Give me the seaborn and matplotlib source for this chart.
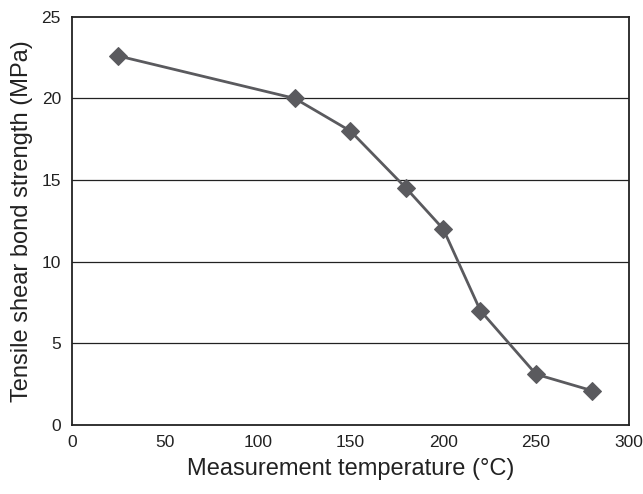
import matplotlib
matplotlib.use("Agg")
import matplotlib.pyplot as plt
import seaborn as sns
import pandas as pd

temperature = [25, 120, 150, 180, 200, 220, 250, 280]
strength = [22.6, 20.0, 18.0, 14.5, 12.0, 7.0, 3.1, 2.1]
x_ticks = [0, 50, 100, 150, 200, 250, 300]
y_ticks = [0, 5, 10, 15, 20, 25]

sns.set_theme(style="white")
plt.rcParams['font.family'] = ['Liberation Sans', 'DejaVu Sans']

df = pd.DataFrame({"Temperature": temperature, "Strength": strength})

fig = plt.figure(figsize=(6.43, 4.94), dpi=100)
ax = fig.add_axes([0.112, 0.140, 0.866, 0.826])

for yv in y_ticks[1:-1]:
    ax.axhline(yv, color="#222222", lw=0.9, zorder=1)

sns.lineplot(data=df, x="Temperature", y="Strength", ax=ax, color="#5a5a5e",
             lw=2, marker="D", markersize=9.5, markeredgecolor="#5a5a5e",
             zorder=3)

ax.set_xlim(0, 300)
ax.set_ylim(0, 25)
ax.set_xticks(x_ticks)
ax.set_yticks(y_ticks)
ax.set_xticklabels([str(v) for v in x_ticks])
ax.set_yticklabels([str(v) for v in y_ticks])
ax.tick_params(axis="x", direction="in", length=5, width=1, color="#222222",
               labelsize=12.5, pad=7, labelcolor="#222222")
ax.tick_params(axis="y", length=0, labelsize=12.5, pad=8, labelcolor="#222222")
for s in ax.spines.values():
    s.set_color("#222222")
    s.set_linewidth(1.3)
    s.set_visible(True)

ax.set_xlabel("Measurement temperature (°C)", fontsize=17, color="#222222", labelpad=6)
ax.set_ylabel("Tensile shear bond strength (MPa)", fontsize=17, color="#222222", labelpad=6)

fig.savefig("out.png", dpi=100)
